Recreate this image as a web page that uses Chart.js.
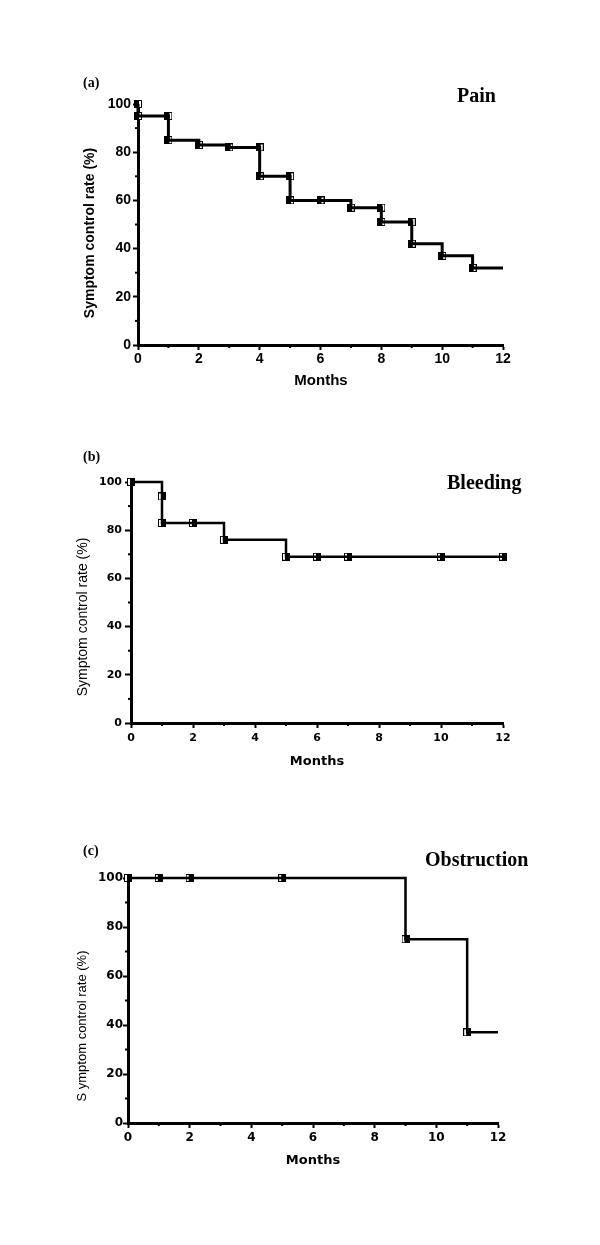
<!DOCTYPE html>
<html>
<head>
<meta charset="utf-8">
<script src="https://cdn.jsdelivr.net/npm/chart.js@4.4.0/dist/chart.umd.min.js"></script>
<style>
body { margin: 0; background: #fff; }
#wrap { position: relative; width: 600px; height: 1245px; }
canvas { position: absolute; left: 0; top: 0; }
</style>
</head>
<body>
<div id="wrap">
  <canvas id="pain" width="600" height="1245"></canvas>
  <canvas id="bleeding" width="600" height="1245"></canvas>
  <canvas id="obstruction" width="600" height="1245"></canvas>
</div>
<script>
// Axis ticks
const monthTicks = [0, 2, 4, 6, 8, 10, 12];
const monthMinor = [1, 3, 5, 7, 9, 11];
const rateTicks = [0, 20, 40, 60, 80, 100];
const rateMinor = [10, 30, 50, 70, 90];

// (a) Pain - step curve and markers
const painTimes = [0, 0, 1, 2, 3, 4, 5, 7, 8, 9, 10, 11, 12];
const painRates = [100, 95, 85, 83, 82, 70, 60, 57, 51, 42, 37, 32, 32];
const painMarkTimes = [0, 0, 1, 1, 2, 3, 4, 4, 5, 5, 6, 7, 8, 8, 9, 9, 10, 11];
const painMarkRates = [100, 95, 95, 85, 83, 82, 82, 70, 70, 60, 60, 57, 57, 51, 51, 42, 37, 32];

// (b) Bleeding
const bleedTimes = [0, 1, 3, 5, 12];
const bleedRates = [100, 83, 76, 69, 69];
const bleedMarkTimes = [0, 1, 1, 2, 3, 5, 6, 7, 10, 12];
const bleedMarkRates = [100, 94, 83, 83, 76, 69, 69, 69, 69, 69];

// (c) Obstruction
const obstTimes = [0, 9, 11, 12];
const obstRates = [100, 75, 37, 37];
const obstMarkTimes = [0, 1, 2, 5, 9, 11];
const obstMarkRates = [100, 100, 100, 100, 75, 37];

// half filled square marker
function makeMarker(blackSide) {
    const c = document.createElement('canvas');
    c.width = 8;
    c.height = 8;
    const g = c.getContext('2d');
    g.fillStyle = '#fff';
    g.fillRect(0, 0, 8, 8);
    g.fillStyle = '#000';
    if (blackSide === 'left') g.fillRect(0, 0, 5, 8);
    else g.fillRect(3, 0, 5, 8);
    g.strokeStyle = '#000';
    g.lineWidth = 1;
    g.strokeRect(0.5, 0.5, 7, 7);
    return c;
}

function toPoints(xs, ys) {
    return xs.map((x, i) => ({ x: x, y: ys[i] }));
}

// minor ticks and free text
const extrasPlugin = {
    id: 'extras',
    afterDraw(chart, args, opts) {
        const ctx = chart.ctx;
        const xs = chart.scales.x;
        const ys = chart.scales.y;
        ctx.save();
        ctx.strokeStyle = '#000';
        ctx.lineWidth = 2;
        monthMinor.forEach(v => {
            const px = xs.getPixelForValue(v);
            ctx.beginPath();
            ctx.moveTo(px, ys.bottom);
            ctx.lineTo(px, ys.bottom + opts.minorLen);
            ctx.stroke();
        });
        rateMinor.forEach(v => {
            const py = ys.getPixelForValue(v);
            ctx.beginPath();
            ctx.moveTo(xs.left, py);
            ctx.lineTo(xs.left - opts.minorLen, py);
            ctx.stroke();
        });
        ctx.fillStyle = '#000';
        opts.texts.forEach(t => {
            ctx.save();
            ctx.font = t.font;
            ctx.textAlign = t.align || 'left';
            ctx.textBaseline = 'middle';
            ctx.translate(t.x, t.y);
            if (t.rotate) ctx.rotate(-Math.PI / 2);
            ctx.fillText(t.text, 0, 0);
            ctx.restore();
        });
        ctx.restore();
    }
};

function makeChart(id, p) {
    const xh = 30;
    return new Chart(document.getElementById(id), {
        type: 'line',
        data: {
            datasets: [{
                data: toPoints(p.times, p.rates),
                stepped: true,
                borderColor: '#000',
                borderWidth: p.lineWidth,
                pointRadius: 0,
                fill: false,
                clip: false
            }, {
                data: toPoints(p.markTimes, p.markRates),
                showLine: false,
                pointStyle: makeMarker(p.markSide),
                pointRadius: 4,
                clip: false
            }]
        },
        options: {
            responsive: false,
            animation: false,
            layout: {
                padding: { left: 0, right: 600 - p.area.right, top: p.area.top, bottom: 1245 - p.area.bottom - xh }
            },
            plugins: {
                legend: { display: false },
                tooltip: { enabled: false },
                extras: { minorLen: 3, texts: p.texts }
            },
            scales: {
                x: {
                    type: 'linear',
                    min: 0,
                    max: 12,
                    afterFit: s => { s.height = xh; },
                    afterBuildTicks: s => { s.ticks = monthTicks.map(v => ({ value: v })); },
                    border: { color: '#000', width: 3 },
                    grid: { drawOnChartArea: false, drawTicks: true, tickLength: 5, tickColor: '#000', tickWidth: 2 },
                    ticks: { color: '#000', font: p.tickFont, padding: p.xPad, maxRotation: 0 }
                },
                y: {
                    type: 'linear',
                    min: 0,
                    max: 100,
                    afterFit: s => { s.width = p.area.left; },
                    afterBuildTicks: s => { s.ticks = rateTicks.map(v => ({ value: v })); },
                    border: { color: '#000', width: 3 },
                    grid: { drawOnChartArea: false, drawTicks: true, tickLength: p.yTickLen, tickColor: '#000', tickWidth: 2 },
                    ticks: { color: '#000', font: p.tickFont, padding: p.yPad }
                }
            }
        },
        plugins: [extrasPlugin]
    });
}

makeChart('pain', {
    times: painTimes, rates: painRates, markTimes: painMarkTimes, markRates: painMarkRates,
    markSide: 'left', lineWidth: 3,
    area: { left: 138, right: 503, top: 104, bottom: 345 },
    tickFont: { family: 'Liberation Sans', weight: 'bold', size: 14 },
    xPad: 1, yPad: 2, yTickLen: 5,
    texts: [
        { text: '(a)', x: 83, y: 83, font: 'bold 14px "Liberation Serif"' },
        { text: 'Pain', x: 457, y: 97, font: 'bold 20px "Liberation Serif"' },
        { text: 'Symptom control rate (%)', x: 90, y: 233, rotate: true, align: 'center', font: 'bold 14px "Liberation Sans"' },
        { text: 'Months', x: 321, y: 381, align: 'center', font: 'bold 15px "Liberation Sans"' }
    ]
});

makeChart('bleeding', {
    times: bleedTimes, rates: bleedRates, markTimes: bleedMarkTimes, markRates: bleedMarkRates,
    markSide: 'right', lineWidth: 2.5,
    area: { left: 131, right: 503, top: 482, bottom: 723 },
    tickFont: { family: 'DejaVu Sans', weight: 'bold', size: 11 },
    xPad: 4, yPad: 3, yTickLen: 6,
    texts: [
        { text: '(b)', x: 83, y: 457, font: 'bold 14px "Liberation Serif"' },
        { text: 'Bleeding', x: 447, y: 484, font: 'bold 20px "Liberation Serif"' },
        { text: 'Symptom control rate (%)', x: 83, y: 617, rotate: true, align: 'center', font: '14px "Liberation Sans"' },
        { text: 'Months', x: 317, y: 762, align: 'center', font: 'bold 13px "DejaVu Sans"' }
    ]
});

makeChart('obstruction', {
    times: obstTimes, rates: obstRates, markTimes: obstMarkTimes, markRates: obstMarkRates,
    markSide: 'right', lineWidth: 2.5,
    area: { left: 128, right: 498, top: 878, bottom: 1123 },
    tickFont: { family: 'DejaVu Sans', weight: 'bold', size: 12 },
    xPad: 3, yPad: 0, yTickLen: 5,
    texts: [
        { text: '(c)', x: 83, y: 851, font: 'bold 14px "Liberation Serif"' },
        { text: 'Obstruction', x: 425, y: 861, font: 'bold 20px "Liberation Serif"' },
        { text: 'S ymptom control rate (%)', x: 82, y: 1026, rotate: true, align: 'center', font: '13px "Liberation Sans"' },
        { text: 'Months', x: 313, y: 1161, align: 'center', font: 'bold 13px "DejaVu Sans"' }
    ]
});
</script>
</body>
</html>
